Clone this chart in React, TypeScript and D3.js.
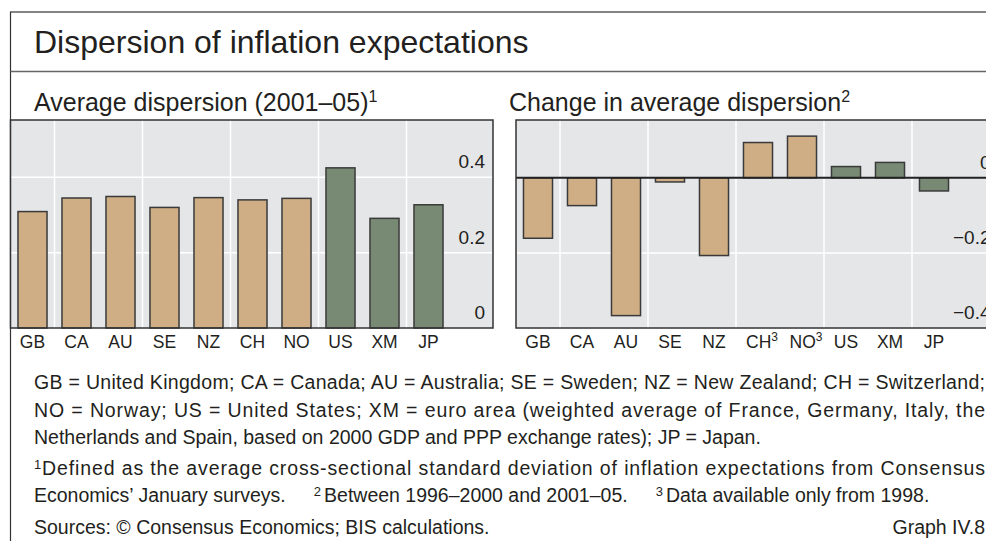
import React from "react";
import * as d3 from "d3";

const categories = ["GB", "CA", "AU", "SE", "NZ", "CH", "NO", "US", "XM", "JP"];
const rightSup = ["", "", "", "", "", "3", "3", "", "", ""];
const groupIdx = [0, 0, 0, 0, 0, 0, 0, 1, 1, 1];
const avgDispersion = [0.309, 0.345, 0.349, 0.32, 0.346, 0.34, 0.344, 0.425, 0.291, 0.327];
const changeDispersion = [-0.161, -0.074, -0.367, -0.011, -0.207, 0.094, 0.111, 0.03, 0.041, -0.035];
const leftTicks = [0, 0.2, 0.4];
const rightTicks = [0, -0.2, -0.4];
const leftTickLabels = ["0", "0.2", "0.4"];
const rightTickLabels = ["0", "\u22120.2", "\u22120.4"];

const W = 986;
const H = 541;
const FONT = "'Liberation Sans', Arial, Helvetica, sans-serif";
const BG = "#e5e6e8";
const FILLS = ["#cfad85", "#798a74"];
const STROKE = "#3a3a3a";
const TEXT = "#231f20";

type PanelProps = {
  x0: number;
  x1: number;
  values: number[];
  domain: [number, number];
  ticks: number[];
  tickLabels: string[];
  sups: string[];
  zeroLine: boolean;
};

function Panel({ x0, x1, values, domain, ticks, tickLabels, sups, zeroLine }: PanelProps) {
  const top = 120;
  const bottom = 328;
  const x = d3
    .scaleBand<string>()
    .domain(categories)
    .range([x0, x0 + 440])
    .paddingInner(0.34)
    .paddingOuter(0.17);
  const y = d3.scaleLinear().domain(domain).range([bottom, top]);
  const step = x.step();
  const vgrid = [0, 1, 2, 3, 4].map((k) => x0 + step * (2 * k + 1));
  const labelEnd = x1 - 8;
  return (
    <g>
      <rect x={x0} y={top} width={x1 - x0} height={bottom - top} fill={BG} />
      {vgrid.map((gx, i) => (
        <line key={"v" + i} x1={gx} x2={gx} y1={top} y2={bottom} stroke="#fff" strokeWidth={1.5} />
      ))}
      {ticks.map((t, i) =>
        t === 0 || y(t) >= bottom - 1 ? null : (
          <line key={"h" + i} x1={x0} x2={x1} y1={y(t)} y2={y(t)} stroke="#fff" strokeWidth={1.5} />
        )
      )}
      {values.map((v, i) => {
        const c = categories[i];
        const y0 = y(0);
        const yv = y(v);
        return (
          <rect
            key={"b" + c}
            x={x(c)}
            y={Math.min(y0, yv)}
            width={x.bandwidth()}
            height={Math.abs(yv - y0)}
            fill={FILLS[groupIdx[i]]}
            stroke={STROKE}
            strokeWidth={1.5}
          />
        );
      })}
      {zeroLine && (
        <line x1={x0} x2={x1} y1={y(0)} y2={y(0)} stroke="#222" strokeWidth={2} />
      )}
      {ticks.map((t, i) => (
        <text
          key={"t" + i}
          x={labelEnd}
          y={y(t) - 9}
          textAnchor="end"
          fontSize={19}
          fill={TEXT}
        >
          {tickLabels[i]}
        </text>
      ))}
      <rect x={x0} y={top} width={x1 - x0} height={bottom - top} fill="none" stroke="#333" strokeWidth={1.5} />
      {categories.map((c, i) => (
        <text
          key={"c" + c}
          x={(x(c) as number) + x.bandwidth() / 2 + (sups[i] ? 4 : 0)}
          y={348}
          textAnchor="middle"
          fontSize={17.5}
          fill={TEXT}
        >
          {c}
          {sups[i] ? (
            <tspan fontSize={12} dy={-7}>
              {sups[i]}
            </tspan>
          ) : null}
        </text>
      ))}
    </g>
  );
}

export default function App() {
  const noSups = categories.map(() => "");
  const fnSize = 19.5;
  const justify = 951;
  return (
    <div style={{ position: "absolute", left: 0, top: 0 }}>
      <svg width={W} height={H} style={{ display: "block", fontFamily: FONT }}>
        <rect x={0} y={0} width={W} height={H} fill="#fff" />
        <rect x={10.5} y={12} width={W + 20} height={H + 20} fill="none" stroke="#333" strokeWidth={1.2} />
        <line x1={10.5} x2={W} y1={71.5} y2={71.5} stroke="#666" strokeWidth={1.5} />
        <text x={34} y={52.5} fontSize={32} fill={TEXT}>
          Dispersion of inflation expectations
        </text>
        <text x={34} y={110.5} fontSize={25} fill={TEXT}>
          Average dispersion (2001–05)
          <tspan fontSize={16} dy={-9}>1</tspan>
        </text>
        <text x={509} y={110.5} fontSize={25} fill={TEXT}>
          Change in average dispersion
          <tspan fontSize={16} dy={-9}>2</tspan>
        </text>
        <Panel
          x0={10.5}
          x1={493}
          values={avgDispersion}
          domain={[0, 0.552]}
          ticks={leftTicks}
          tickLabels={leftTickLabels}
          sups={noSups}
          zeroLine={false}
        />
        <Panel
          x0={516}
          x1={998.5}
          values={changeDispersion}
          domain={[-0.4, 0.154]}
          ticks={rightTicks}
          tickLabels={rightTickLabels}
          sups={rightSup}
          zeroLine={true}
        />
        <g fontSize={fnSize} fill={TEXT}>
          <text x={34} y={389} textLength={justify} lengthAdjust="spacing">
            GB = United Kingdom; CA = Canada; AU = Australia; SE = Sweden; NZ = New Zealand; CH = Switzerland;
          </text>
          <text x={34} y={416.5} textLength={justify} lengthAdjust="spacing">
            NO = Norway; US = United States; XM = euro area (weighted average of France, Germany, Italy, the
          </text>
          <text x={34} y={444}>
            Netherlands and Spain, based on 2000 GDP and PPP exchange rates); JP = Japan.
          </text>
          <text x={34} y={474.5} textLength={justify} lengthAdjust="spacing">
            <tspan fontSize={13} dy={-6}>1</tspan>
            <tspan dy={6}>Defined as the average cross-sectional standard deviation of inflation expectations from Consensus</tspan>
          </text>
          <text x={34} y={502}>
            Economics’ January surveys.
            <tspan dx={28} fontSize={13} dy={-6}>2</tspan>
            <tspan dx={3} dy={6}>Between 1996–2000 and 2001–05.</tspan>
            <tspan dx={28} fontSize={13} dy={-6}>3</tspan>
            <tspan dx={3} dy={6}>Data available only from 1998.</tspan>
          </text>
          <text x={34} y={534}>
            Sources: © Consensus Economics; BIS calculations.
          </text>
          <text x={985} y={534} textAnchor="end">
            Graph IV.8
          </text>
        </g>
      </svg>
    </div>
  );
}
